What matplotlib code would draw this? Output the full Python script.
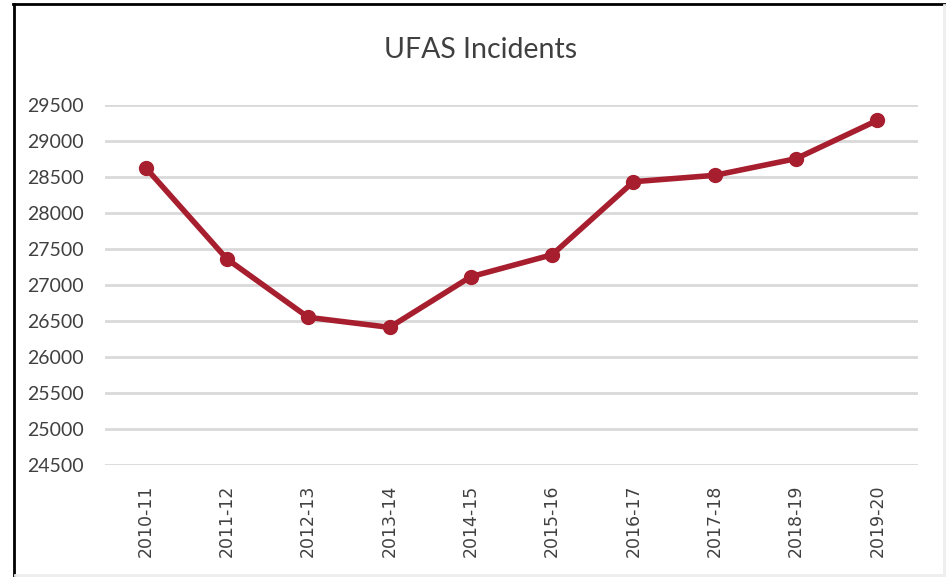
import matplotlib
matplotlib.use("Agg")
import matplotlib.pyplot as plt
from matplotlib.lines import Line2D

categories = ["2010-11", "2011-12", "2012-13", "2013-14", "2014-15",
              "2015-16", "2016-17", "2017-18", "2018-19", "2019-20"]
incidents = [28626, 27359, 26549, 26410, 27113, 27418, 28431, 28520, 28751, 29283]
yticks = list(range(24500, 30000, 500))

W, H = 946, 577
fig = plt.figure(figsize=(W / 100, H / 100), dpi=100)
fig.patch.set_facecolor("white")

ax = fig.add_axes([105 / W, 1 - 465 / H, (918 - 105) / W, (465 - 104.7) / H])
x = list(range(len(categories)))
ax.plot(x, incidents, color="#A71E2E", linewidth=4, marker="o", markersize=10,
        solid_capstyle="round", solid_joinstyle="round", zorder=3)
ax.set_xlim(-0.5, len(categories) - 0.5)
ax.set_ylim(24500, 29500)
ax.set_yticks(yticks)
ax.set_yticklabels([str(v) for v in yticks], fontsize=14, color="#404040", family="Lato")
ax.set_xticks(x)
ax.set_xticklabels(categories, rotation=90, fontsize=12.5, color="#404040", family="DejaVu Sans")
ax.grid(axis="y", color="#D9D9D9", linewidth=2)
ax.set_axisbelow(True)
for s in ax.spines.values():
    s.set_visible(False)
ax.tick_params(axis="both", length=0)
ax.tick_params(axis="y", pad=15)
ax.tick_params(axis="x", pad=14)

fig.text(481 / W, 1 - 50 / H, "UFAS Incidents", ha="center", va="center",
         fontsize=20.5, color="#404040", family="Lato")

# frame
fig.add_artist(Line2D([14 / W, 14 / W], [0, 1 - 4 / H], transform=fig.transFigure, color="black", linewidth=2))
fig.add_artist(Line2D([13 / W, 1], [1 - 4 / H, 1 - 4 / H], transform=fig.transFigure, color="black", linewidth=2))
fig.add_artist(Line2D([944 / W, 944 / W], [0, 1 - 5 / H], transform=fig.transFigure, color="#EEEEEE", linewidth=2))
fig.add_artist(Line2D([15 / W, 944 / W], [1 - 575 / H, 1 - 575 / H], transform=fig.transFigure, color="#EEEEEE", linewidth=2))

fig.savefig("out.png", dpi=100, facecolor="white")
